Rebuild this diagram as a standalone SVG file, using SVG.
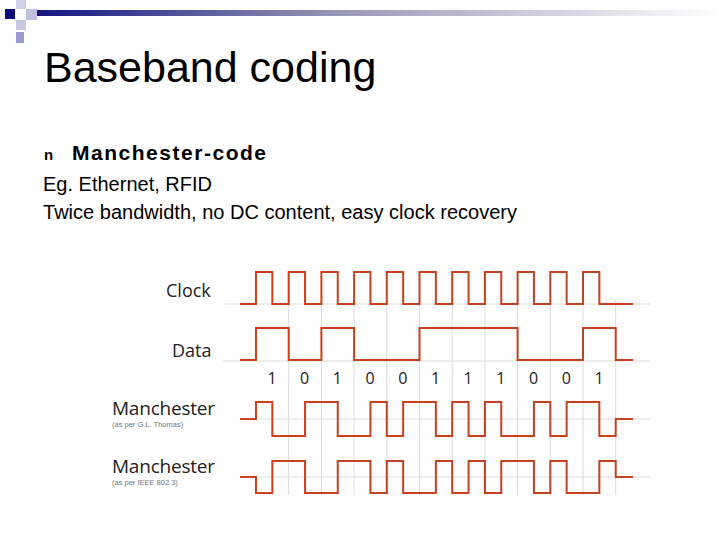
<svg xmlns="http://www.w3.org/2000/svg" width="720" height="540" viewBox="0 0 720 540">
<defs>
<linearGradient id="g" x1="0" x2="1"><stop offset="0" stop-color="#141480"/><stop offset="0.45" stop-color="#9a9ab8"/><stop offset="1" stop-color="#ffffff"/></linearGradient>
<style>
.t{font-family:"Liberation Sans",Arial,sans-serif;fill:#000}
.l{font-family:"Open Sans","Liberation Sans",sans-serif;fill:#222}
.s{font-family:"Liberation Sans",Arial,sans-serif;fill:#777;font-size:7.5px}
.w{fill:none;stroke:#c8401e;stroke-width:2}
.gr{stroke:#dcdcdc;stroke-width:1}
</style>
</defs>
<rect width="720" height="540" fill="#fff"/>
<g id="header">
<rect x="36" y="10" width="684" height="6" fill="url(#g)"/>
<rect x="5" y="9" width="10" height="10" fill="#0c0c7a"/>
<rect x="16" y="0" width="10" height="9" fill="#d0d0ea"/>
<rect x="26" y="9" width="11" height="11" fill="#c0c0e0"/>
<rect x="16" y="20" width="10" height="10" fill="#c8c8e4"/>
<rect x="16" y="32" width="8" height="11" fill="#9a9acc"/>
</g>
<g id="text">
<text class="t" x="44" y="82" font-size="43">Baseband coding</text>
<text class="t" x="44" y="160" font-size="15" font-weight="bold">n</text>
<text class="t" x="72" y="160" font-size="21" font-weight="bold" textLength="194">Manchester-code</text>
<text class="t" x="43" y="191" font-size="20">Eg. Ethernet, RFID</text>
<text class="t" x="43" y="219" font-size="20" textLength="474">Twice bandwidth, no DC content, easy clock recovery</text>
</g>
<g id="grid">
<path class="gr" d="M223 304H650M223 361H650M240 419H650M240 477H650"/>
<path class="gr" d="M288.7 300V495M321.4 300V495M354.1 300V495M386.8 300V495M419.5 300V495M452.2 300V495M484.9 300V495M517.6 300V495M550.3 300V495M583 300V495M615.7 300V495"/>
</g>
<g id="labels">
<text class="l" x="166" y="297" font-size="18">Clock</text>
<text class="l" x="172" y="357" font-size="18">Data</text>
<text class="l" x="112" y="415" font-size="19" textLength="103">Manchester</text>
<text class="s" x="112" y="427">(as per G.L. Thomas)</text>
<text class="l" x="112" y="473" font-size="19" textLength="103">Manchester</text>
<text class="s" x="112" y="485">(as per IEEE 802.3)</text>
<g font-size="16" text-anchor="middle">
<text class="l" x="272" y="384">1</text><text class="l" x="304.7" y="384">0</text><text class="l" x="337.4" y="384">1</text><text class="l" x="370.1" y="384">0</text><text class="l" x="402.8" y="384">0</text><text class="l" x="435.5" y="384">1</text><text class="l" x="468.2" y="384">1</text><text class="l" x="500.9" y="384">1</text><text class="l" x="533.6" y="384">0</text><text class="l" x="566.3" y="384">0</text><text class="l" x="599" y="384">1</text>
</g>
</g>
<g id="waves">
<path class="w" d="M240 304H256V272H272.35V304H288.7V272H305.05V304H321.4V272H337.75V304H354.1V272H370.45V304H386.8V272H403.15V304H419.5V272H435.85V304H452.2V272H468.55V304H484.9V272H501.25V304H517.6V272H533.95V304H550.3V272H566.65V304H583V272H599.35V304H633"/>
<path class="w" d="M240 360H256V328H288.7V360H321.4V328H354.1V360H419.5V328H517.6V360H583V328H615.7V360H633"/>
<path class="w" d="M240 419H256V402H272.35V436H305.05V402H337.75V436H370.45V402H386.8V436H403.15V402H435.85V436H452.2V402H468.55V436H484.9V402H501.25V436H533.95V402H550.3V436H566.65V402H599.35V436H615.7V419H633"/>
<path class="w" d="M240 477H256V493H272.35V461H305.05V493H337.75V461H370.45V493H386.8V461H403.15V493H435.85V461H452.2V493H468.55V461H484.9V493H501.25V461H533.95V493H550.3V461H566.65V493H599.35V461H615.7V477H633"/>
</g>
</svg>
